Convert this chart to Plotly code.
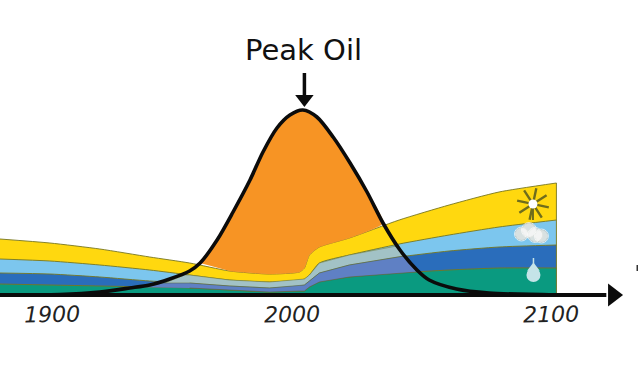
import plotly.graph_objects as go

years = [1879, 1899, 1919, 1939, 1955, 1971, 1987, 1999, 2001, 2003, 2007, 2019, 2039, 2059, 2079, 2102]
solar = [56, 52, 46, 38, 32, 24, 21, 23, 27, 40, 48, 57, 75, 90, 103, 112]
wind = [36, 34, 30, 25, 20, 15, 13, 15, 16, 20, 32, 40, 51, 60, 68, 75]
gas = [22, 21, 18, 14, 12, 9, 7, 9, 10, 14, 22, 30, 38, 44, 48, 50]
hydro = [11, 10, 9, 8, 7, 5, 3, 4, 4, 8, 13, 18, 22, 25, 27, 27]

oil_years = [1879, 1903, 1919, 1931, 1939, 1947, 1955, 1959.2, 1966, 1972.4, 1979.2, 1984.4, 1990, 1995.2,
             2000.4, 2006, 2012.5, 2019.3, 2026.1, 2032.5, 2039.3, 2046.1, 2051, 2062, 2075, 2102]
oil = [0, 0.5, 3, 7, 10, 16, 24, 32, 55, 83, 115, 143, 167, 180,
       185, 178, 158, 132, 103, 72, 45, 25, 15, 6, 2, 0]

muted_wind_x = [1945, 1953, 1955, 1971, 1987, 1999, 2001, 2003, 2007, 2019, 2038,
                2041, 2019, 2007, 2003, 2001, 1999, 1987, 1971, 1955]
muted_wind_y = [12, 20, 20, 15, 13, 15, 16, 20, 32, 40, 49,
                39, 30, 22, 14, 10, 9, 7, 9, 12]
muted_gas_x = [1931, 1945, 1955, 1971, 1987, 1999, 2001, 2003, 2007, 2019, 2041,
               2046, 2019, 2007, 2003, 2001, 1999, 1987, 1971, 1955]
muted_gas_y = [8, 12, 12, 9, 7, 9, 10, 14, 22, 30, 39,
               23, 18, 13, 8, 4, 4, 3, 5, 7]

tick_years = [1900, 2000, 2100]
tick_labels = ["1900", "2000", "2100"]
tick_shift = [0, -10, 0]

fig = go.Figure()
edge = dict(color="#77761f", width=0.9, shape="spline", smoothing=0.6)

for vals, col, name in [(solar, "#FFD80F", "Solar"), (wind, "#7CC6EE", "Wind"),
                        (gas, "#2A6DBB", "Gas"), (hydro, "#0A9A80", "Hydro")]:
    fig.add_trace(go.Scatter(x=years, y=vals, mode="lines", fill="tozeroy", fillcolor=col,
                             line=edge, name=name, showlegend=False, hoverinfo="skip"))

# right edge of the stacked bands
fig.add_trace(go.Scatter(x=[2102, 2102], y=[0, 112], mode="lines",
                         line=dict(color="#77761f", width=0.9), showlegend=False))

fig.add_trace(go.Scatter(x=muted_wind_x, y=muted_wind_y, mode="lines", fill="toself",
                         fillcolor="#A2C2C6", line=dict(color="#77761f", width=0.5), showlegend=False))
fig.add_trace(go.Scatter(x=muted_gas_x, y=muted_gas_y, mode="lines", fill="toself",
                         fillcolor="#5F80C4", line=dict(color="#55602f", width=0.5), showlegend=False))

# Orange area between the oil curve and the top of the renewables
oil_in = [(x, y) for x, y in zip(oil_years, oil) if 1959 <= x <= 2033]
top_in = [(x, y) for x, y in zip(years, solar) if 1959 <= x <= 2033]
fig.add_trace(go.Scatter(x=[p[0] for p in oil_in] + [p[0] for p in reversed(top_in)],
                         y=[p[1] for p in oil_in] + [p[1] for p in reversed(top_in)],
                         mode="lines", fill="toself", fillcolor="#F79424",
                         line=dict(color="#F79424", width=0.5, shape="spline", smoothing=0.5),
                         showlegend=False))

# Icons: sun, cloud, drop
fig.add_trace(go.Scatter(x=[2092.6, 2092.6], y=[75, 91], mode="lines",
                         line=dict(color="#6f6d1c", width=2), showlegend=False))
fig.add_trace(go.Scatter(x=[2092.6], y=[91], mode="markers",
                         marker=dict(symbol="asterisk", size=27, angle=12,
                                     line=dict(color="#6f6d1c", width=2.4)),
                         showlegend=False))
fig.add_trace(go.Scatter(x=[2092.6], y=[91], mode="markers",
                         marker=dict(symbol="circle", size=9, color="white"), showlegend=False))
fig.add_trace(go.Scatter(x=[2088, 2091, 2093.5, 2096], y=[61, 65, 60, 59], mode="markers",
                         marker=dict(symbol="circle", size=[14, 15, 15, 14], color="#7f8a7a"),
                         showlegend=False))
fig.add_trace(go.Scatter(x=[2088, 2091, 2093.5, 2096], y=[61, 65, 60, 59], mode="markers",
                         marker=dict(symbol="circle", size=[12, 13, 13, 12], color="white"),
                         showlegend=False))
fig.add_trace(go.Scatter(x=[2092.8, 2092.8], y=[27, 37], mode="lines",
                         line=dict(color="#C5E4E8", width=1.5), showlegend=False))
fig.add_trace(go.Scatter(x=[2092.8], y=[27], mode="markers",
                         marker=dict(symbol="triangle-up", size=11, color="#C5E4E8"), showlegend=False))
fig.add_trace(go.Scatter(x=[2092.8], y=[20], mode="markers",
                         marker=dict(symbol="circle", size=14, color="#C5E4E8"), showlegend=False))

# Oil curve
fig.add_trace(go.Scatter(x=oil_years, y=oil, mode="lines",
                         line=dict(color="#0b0b0b", width=3.6, shape="spline", smoothing=0.8),
                         showlegend=False))

# Time axis with arrow
fig.add_trace(go.Scatter(x=[1879, 2122], y=[0, 0], mode="lines",
                         line=dict(color="#0b0b0b", width=4), showlegend=False))
fig.add_trace(go.Scatter(x=[2124.7], y=[0], mode="markers",
                         marker=dict(symbol="triangle-right", size=20, color="#0b0b0b"), showlegend=False))

# Peak arrow
fig.add_trace(go.Scatter(x=[2001, 2001], y=[222, 200], mode="lines",
                         line=dict(color="#0b0b0b", width=3.5), showlegend=False))
fig.add_trace(go.Scatter(x=[2001], y=[196], mode="markers",
                         marker=dict(symbol="triangle-down", size=16, color="#0b0b0b"), showlegend=False))
# small cut-off mark at the right edge
fig.add_trace(go.Scatter(x=[2134.4, 2134.4], y=[24, 30], mode="lines",
                         line=dict(color="#333333", width=1.5), showlegend=False))

fig.add_annotation(x=2000.5, y=245, text="Peak Oil", showarrow=False,
                   font=dict(family="DejaVu Sans", size=29, color="#111111"))
for yr, lab, sh in zip(tick_years, tick_labels, tick_shift):
    fig.add_annotation(x=yr, y=-19, text=f"<i>{lab}</i>", showarrow=False, xshift=sh, textangle=-1,
                       font=dict(family="DejaVu Sans", size=22, color="#222222"))

fig.update_layout(width=640, height=366, margin=dict(l=0, r=0, t=0, b=0),
                  paper_bgcolor="white", plot_bgcolor="white", showlegend=False,
                  xaxis=dict(range=[1879, 2135.5], visible=False, fixedrange=True),
                  yaxis=dict(range=[-71, 295], visible=False, fixedrange=True))
fig.write_html("out.html", config={"displayModeBar": False},
               post_script="document.body.style.margin='0';document.documentElement.style.overflow='hidden';")
